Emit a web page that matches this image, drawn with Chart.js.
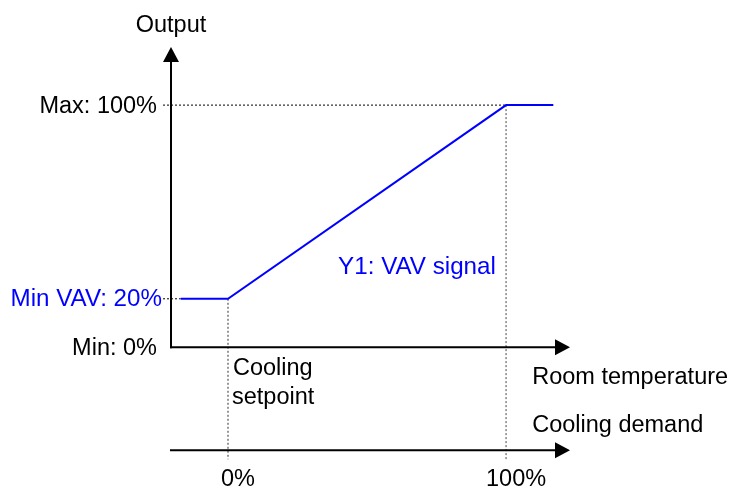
<!DOCTYPE html>
<html>
<head>
<meta charset="utf-8">
<script src="https://cdn.jsdelivr.net/npm/chart.js@4.4.1/dist/chart.umd.min.js"></script>
<style>
  body { margin: 0; background: #fff; }
  #wrap { width: 733px; height: 488px; }
</style>
</head>
<body>
<div id="wrap"><canvas id="vavChart" width="733" height="488"></canvas></div>
<script>
// cooling demand (%) vs output (%)
const demand = [-17, 0, 100, 117];
const output = [20, 20, 100, 100];

const yTickValues = [0, 20, 100];
const yTickLabels = ['Min: 0%', 'Min VAV: 20%', 'Max: 100%'];
const xTickValues = [0, 100];
const xTickLabels = ['0%', '100%'];

const demandAxisAt = -42.6; // second (cooling demand) axis, in output units

const BLUE = '#0000ff';
const FONT = '23.5px "Liberation Sans", Arial, sans-serif';
const BLUE_FONT = '24.2px "Liberation Sans", Arial, sans-serif';

function arrowLine(ctx, x1, y1, x2, y2) {
    const ang = Math.atan2(y2 - y1, x2 - x1);
    const len = 15, half = 8;
    ctx.beginPath();
    ctx.moveTo(x1, y1);
    ctx.lineTo(x2 - Math.cos(ang) * len, y2 - Math.sin(ang) * len);
    ctx.stroke();
    ctx.beginPath();
    ctx.moveTo(x2, y2);
    ctx.lineTo(x2 - Math.cos(ang) * len - Math.sin(ang) * half, y2 - Math.sin(ang) * len + Math.cos(ang) * half);
    ctx.lineTo(x2 - Math.cos(ang) * len + Math.sin(ang) * half, y2 - Math.sin(ang) * len - Math.cos(ang) * half);
    ctx.closePath();
    ctx.fill();
}

function dotted(ctx, x1, y1, x2, y2, color) {
    ctx.save();
    ctx.strokeStyle = color;
    ctx.lineWidth = 1;
    ctx.setLineDash([2, 2]);
    ctx.beginPath();
    ctx.moveTo(x1, y1);
    ctx.lineTo(x2, y2);
    ctx.stroke();
    ctx.restore();
}

const diagramPlugin = {
    id: 'diagram',
    beforeDatasetsDraw(chart) {
        const ctx = chart.ctx;
        const xs = chart.scales.x, ys = chart.scales.y;
        const area = chart.chartArea;
        const x0 = area.left;
        const y0 = ys.getPixelForValue(0);
        const yD = ys.getPixelForValue(demandAxisAt);

        // guide lines
        const yMax = ys.getPixelForValue(100);
        const yMin = ys.getPixelForValue(20);
        const xA = xs.getPixelForValue(0);
        const xB = xs.getPixelForValue(100);
        dotted(ctx, x0 - 8, yMax, xB, yMax, '#000');
        dotted(ctx, x0 - 8, yMin, xs.getPixelForValue(demand[0]), yMin, '#000');
        dotted(ctx, xA, yMin, xA, yD + 9, '#333');
        dotted(ctx, xB, yMax, xB, yD + 9, '#444');

        // axes
        ctx.save();
        ctx.strokeStyle = '#000';
        ctx.fillStyle = '#000';
        ctx.lineWidth = 2;
        arrowLine(ctx, x0, y0 + 1, x0, area.top);
        arrowLine(ctx, x0 - 1, y0, area.right, y0);
        arrowLine(ctx, x0 - 1, yD, area.right, yD);
        ctx.restore();
    },
    afterDatasetsDraw(chart) {
        const ctx = chart.ctx;
        const xs = chart.scales.x, ys = chart.scales.y;
        const area = chart.chartArea;
        const x0 = area.left;
        const y0 = ys.getPixelForValue(0);
        const yD = ys.getPixelForValue(demandAxisAt);
        ctx.save();
        ctx.textBaseline = 'middle';

        // y tick labels
        ctx.textAlign = 'right';
        yTickValues.forEach((v, i) => {
            ctx.font = v === 20 ? BLUE_FONT : FONT;
            ctx.fillStyle = v === 20 ? BLUE : '#000';
            ctx.fillText(yTickLabels[i], x0 - (v === 20 ? 9 : 14), ys.getPixelForValue(v) + 1);
        });

        // x tick labels on demand axis
        ctx.font = FONT;
        ctx.fillStyle = '#000';
        ctx.textAlign = 'center';
        xTickValues.forEach((v, i) => {
            ctx.fillText(xTickLabels[i], xs.getPixelForValue(v) + 10, yD + 29);
        });

        ctx.fillText('Output', x0, area.top - 21);

        ctx.textAlign = 'left';
        const xA = xs.getPixelForValue(0);
        ctx.fillText('Cooling', xA + 5, y0 + 21);
        ctx.fillText('setpoint', xA + 4, y0 + 50);
        ctx.fillText('Room temperature', xs.getPixelForValue(109.4), y0 + 30);
        ctx.fillText('Cooling demand', xs.getPixelForValue(109.4), yD - 25);

        ctx.font = BLUE_FONT;
        ctx.fillStyle = BLUE;
        ctx.fillText('Y1: VAV signal', xs.getPixelForValue(39.6), ys.getPixelForValue(33));
        ctx.restore();
    }
};

const ctx = document.getElementById('vavChart').getContext('2d');
const vavChart = new Chart(ctx, {
    type: 'line',
    data: {
        datasets: [{
            label: 'Y1: VAV signal',
            data: demand.map((d, i) => ({ x: d, y: output[i] })),
            borderColor: BLUE,
            borderWidth: 2,
            pointRadius: 0,
            tension: 0,
            fill: false
        }]
    },
    options: {
        responsive: false,
        animation: false,
        layout: { padding: { left: 171, right: 163, top: 47, bottom: 27 } },
        scales: {
            x: { type: 'linear', min: -20.5, max: 123, display: false },
            y: { type: 'linear', min: -47, max: 124, display: false }
        },
        plugins: {
            legend: { display: false },
            tooltip: { enabled: false }
        }
    },
    plugins: [diagramPlugin]
});
</script>
</body>
</html>
